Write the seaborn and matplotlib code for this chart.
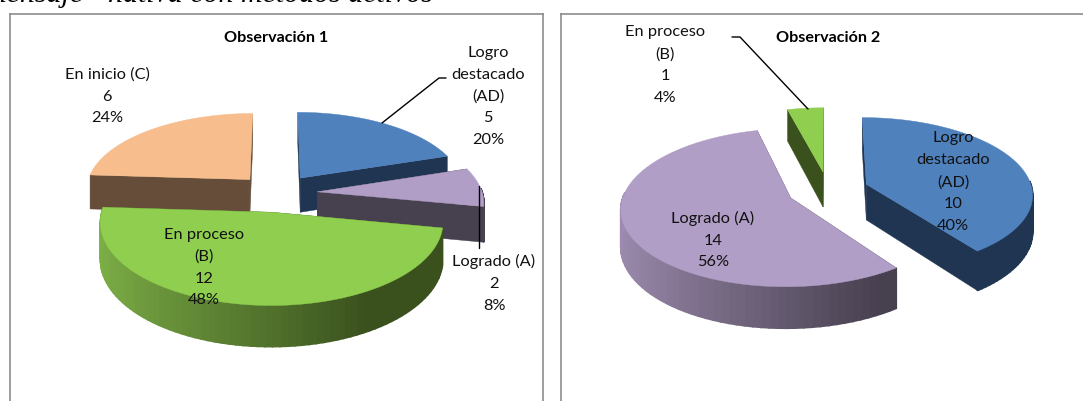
import numpy as np
import seaborn as sns
from matplotlib import pyplot as plt
from matplotlib.patches import Polygon

categories = ['Logro\ndestacado\n(AD)', 'Logrado (A)', 'En proceso\n(B)', 'En inicio (C)']
values_obs1 = [5, 2, 12, 6]
values_obs2 = [10, 14, 1, 0]
titles = ['Observación 1', 'Observación 2']
top_colors = ['#4F81BD', '#B09EC6', '#8FCE4E', '#F7BD8C']
rim_light = ['#1F3552', '#9C8BAE', '#7CAE46', '#664D39']
rim_dark = ['#1F3552', '#47404F', '#3A511E', '#664D39']
caption = 'mensaje - nativa con métodos activos'

# everything below is in image pixels
W, H = 1083, 401
EXPLODE = 0.245
PERSP = 0.12

sns.set_theme(style='white')
plt.rcParams['font.family'] = ['Lato', 'DejaVu Sans']


def project(x, y, cx, cy, rx, ry):
    s = 1 / (1 + PERSP * y)
    return cx + rx * x * s, cy - ry * y * s, s


def draw_pie(ax, values, center, rx, ry, depth):
    cx, cy = center
    angles = np.cumsum([0] + values) / sum(values) * 2 * np.pi
    order = sorted(
        [i for i, v in enumerate(values) if v > 0],
        key=lambda i: -np.cos((angles[i] + angles[i + 1]) / 2),
    )
    for i in order:
        mid = (angles[i] + angles[i + 1]) / 2
        ox, oy = EXPLODE * np.sin(mid), EXPLODE * np.cos(mid)
        th = np.linspace(angles[i], angles[i + 1], 80)
        px, py, ps = project(ox + np.sin(th), oy + np.cos(th), cx, cy, rx, ry)
        ax_, ay_, as_ = project(ox, oy, cx, cy, rx, ry)

        # cut faces
        for j in (0, -1):
            face = [
                (ax_, ay_),
                (px[j], py[j]),
                (px[j], py[j] + depth * ps[j]),
                (ax_, ay_ + depth * as_),
            ]
            ax.add_patch(Polygon(face, color=rim_dark[i], lw=0.3))

        # outer rim, light on the left going dark to the right
        # only the part that faces the viewer
        ramp = sns.blend_palette([rim_light[i], rim_dark[i]], 64)
        for j in range(len(th) - 1):
            if np.cos(th[j]) > 0.05:
                continue
            t = np.clip((np.sin(th[j]) + 1) / 1.5, 0, 1)
            quad = [
                (px[j], py[j]),
                (px[j + 1], py[j + 1]),
                (px[j + 1], py[j + 1] + depth * ps[j + 1]),
                (px[j], py[j] + depth * ps[j]),
            ]
            ax.add_patch(Polygon(quad, color=ramp[int(t * 63)], lw=1.2))

        top = np.vstack([[ax_, ay_], np.column_stack([px, py])])
        ax.add_patch(Polygon(top, color=top_colors[i], lw=0.3))


def draw_labels(ax, values, spots):
    total = sum(values)
    for i, spot in spots.items():
        pct = round(values[i] / total * 100)
        ax.text(
            spot[0], spot[1], f'{categories[i]}\n{values[i]}\n{pct}%',
            ha='center', va='center', fontsize=11.8, color='#111111',
            linespacing=1.7, zorder=10,
        )


fig, axes = plt.subplots(1, 2, figsize=(W / 100, H / 100), dpi=100)
frames = [(10, 543), (561, 1090)]
for ax, (x0, x1), title in zip(axes, frames, titles):
    ax.set_position([x0 / W, 0, (x1 - x0) / W, (H - 13.5) / H])
    ax.set_xlim(x0, x1)
    ax.set_ylim(H, 13.5)
    ax.set_xticks([])
    ax.set_yticks([])
    ax.spines['bottom'].set_visible(False)
    for side in ('left', 'top', 'right'):
        ax.spines[side].set_color('#8C8C8C')
        ax.spines[side].set_linewidth(1.2)

draw_pie(axes[0], values_obs1, (277, 193), 165, 77, 35)
draw_pie(axes[1], values_obs2, (828, 190), 166, 76, 36)

draw_labels(axes[0], values_obs1, {0: (488, 96.5), 1: (494, 283.5), 2: (204, 267.5), 3: (107, 96.5)})
draw_labels(axes[1], values_obs2, {0: (953, 182), 1: (713, 240), 2: (665, 65)})

axes[0].text(276, 38.5, titles[0], ha='center', va='center', fontsize=11.6, fontweight='bold', color='black')
axes[1].text(828, 38.5, titles[1], ha='center', va='center', fontsize=11.6, fontweight='bold', color='black')

# leader lines
axes[0].plot([382, 439, 446], [123, 78, 78], color='black', lw=1, zorder=9)
axes[0].plot([479, 479], [186, 248], color='black', lw=1, zorder=9)
axes[1].plot([808, 740, 732], [109, 37, 37], color='black', lw=1, zorder=9)

fig.text(
    -15 / W, (H - 1.5) / H, caption, ha='left', va='baseline',
    fontsize=21.5, style='italic', family='Liberation Serif', color='black',
)

fig.savefig('out.png', dpi=100)
